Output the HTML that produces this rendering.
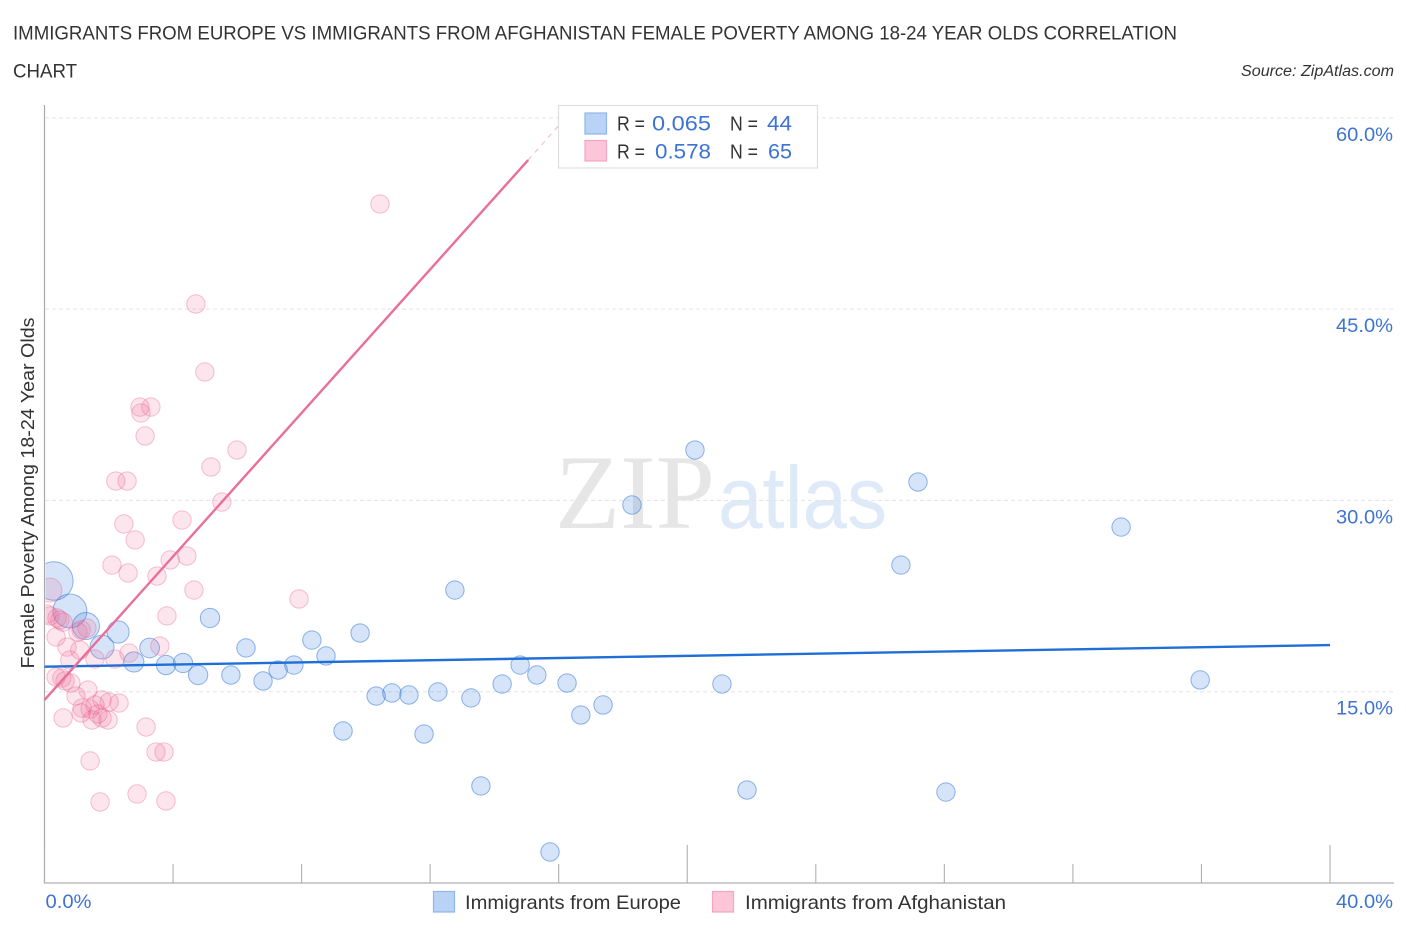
<!DOCTYPE html>
<html lang="en">
<head>
<meta charset="utf-8">
<title>Immigrants from Europe vs Immigrants from Afghanistan Female Poverty Correlation Chart</title>
<style>
html,body{margin:0;padding:0;background:#fff;width:1406px;height:930px;overflow:hidden}
svg{display:block}
text{font-family:"Liberation Sans",sans-serif}
</style>
</head>
<body>
<svg id="chart" xmlns="http://www.w3.org/2000/svg" width="1406" height="930" viewBox="0 0 1406 930">
  <defs><clipPath id="plot-clip"><rect x="45.5" y="100" width="1350" height="783"/></clipPath></defs>
  <text x="13" y="39.5" font-size="19.5" fill="#333" textLength="1164" lengthAdjust="spacingAndGlyphs">IMMIGRANTS FROM EUROPE VS IMMIGRANTS FROM AFGHANISTAN FEMALE POVERTY AMONG 18-24 YEAR OLDS CORRELATION</text>
  <text x="13" y="77.5" font-size="19.5" fill="#333" textLength="64" lengthAdjust="spacingAndGlyphs">CHART</text>
  <text x="1394" y="76" font-size="15.5" font-style="italic" fill="#333" text-anchor="end" textLength="153" lengthAdjust="spacingAndGlyphs">Source: ZipAtlas.com</text>
  <g>
    <text x="555" y="528" font-size="106" fill="#e6e6e6" textLength="160" lengthAdjust="spacingAndGlyphs" style="font-family:'Liberation Serif',serif">ZIP</text>
    <text x="718" y="528" font-size="88" fill="#dfeaf9" textLength="169" lengthAdjust="spacingAndGlyphs">atlas</text>
  </g>
  <g id="grid"></g>
  <g id="axes"></g>
  <g id="points" clip-path="url(#plot-clip)"></g>
  <g id="trends"></g>
  <text transform="translate(34 493) rotate(-90)" font-size="18.5" fill="#333" text-anchor="middle" textLength="351" lengthAdjust="spacingAndGlyphs">Female Poverty Among 18-24 Year Olds</text>
  <g>
    <rect x="558.5" y="105.5" width="259" height="62.5" fill="#fff" stroke="#dedede" stroke-width="1.2"/>
    <rect x="585" y="113" width="21.5" height="21" fill="#b9d3f7" stroke="#8fb5ea" stroke-width="1.2"/>
    <rect x="585" y="140.5" width="21.5" height="20.5" fill="#fcc5d8" stroke="#f3a6c0" stroke-width="1.2"/>
    <text x="617" y="130.5" font-size="20" fill="#333" textLength="28" lengthAdjust="spacingAndGlyphs">R =</text>
    <text x="652" y="130.5" font-size="21" fill="#3d73d2" textLength="59" lengthAdjust="spacingAndGlyphs">0.065</text>
    <text x="730" y="130.5" font-size="20" fill="#333" textLength="28" lengthAdjust="spacingAndGlyphs">N =</text>
    <text x="767" y="130.5" font-size="21" fill="#3d73d2" textLength="25" lengthAdjust="spacingAndGlyphs">44</text>
    <text x="617" y="158.5" font-size="20" fill="#333" textLength="28" lengthAdjust="spacingAndGlyphs">R =</text>
    <text x="655" y="158.5" font-size="21" fill="#3d73d2" textLength="56" lengthAdjust="spacingAndGlyphs">0.578</text>
    <text x="730" y="158.5" font-size="20" fill="#333" textLength="28" lengthAdjust="spacingAndGlyphs">N =</text>
    <text x="768" y="158.5" font-size="21" fill="#3d73d2" textLength="24" lengthAdjust="spacingAndGlyphs">65</text>
  </g>
  <g>
    <rect x="433.5" y="891.5" width="21" height="20.5" fill="#b9d3f7" stroke="#8fb5ea" stroke-width="1.2"/>
    <text x="465" y="909" font-size="19.5" fill="#333" textLength="216" lengthAdjust="spacingAndGlyphs">Immigrants from Europe</text>
    <rect x="712.5" y="891.5" width="21" height="20.5" fill="#fcc5d8" stroke="#f3a6c0" stroke-width="1.2"/>
    <text x="745" y="909" font-size="19.5" fill="#333" textLength="261" lengthAdjust="spacingAndGlyphs">Immigrants from Afghanistan</text>
  </g>
</svg>
<script>
const europeX = [0.29,0.79,1.29,1.79,2.29,2.78,3.27,3.78,4.31,4.78,5.15,5.80,6.27,6.80,7.27,7.76,8.32,8.76,9.29,9.82,10.32,10.81,11.34,11.81,12.24,12.77,13.27,13.58,14.24,14.80,15.32,15.73,16.26,16.69,17.38,18.28,20.24,21.08,21.86,26.65,27.18,28.05,33.50,35.96];
const europeY = [23.72,21.37,20.19,18.54,19.72,17.37,18.47,17.13,17.29,16.35,20.82,16.35,18.47,15.88,16.74,17.13,19.09,17.84,11.96,19.64,14.70,14.94,14.78,11.72,15.02,23.01,14.55,7.65,15.64,17.13,16.35,2.47,15.72,13.21,14.00,29.68,33.99,15.64,7.33,24.97,31.48,7.17,27.95,15.96];
const europeWeight = [4.4,3.4,2.15,1.7,1.45,1.2,1.15,1.1,1.1,1.1,1.1,1,1,1,1,1,1,1,1,1,1,1,1,1,1,1,1,1,1,1,1,1,1,1,1,1,1,1,1,1,1,1,1,1];
const afghanX = [10.44,4.71,4.99,2.97,3.31,3.00,3.13,5.99,5.18,2.22,2.57,5.52,4.28,2.47,2.82,4.43,3.91,2.10,2.60,3.50,4.65,7.92,3.81,0.17,0.17,0.08,0.48,0.36,1.04,1.32,1.14,0.70,1.10,0.79,1.57,2.19,2.63,3.59,0.36,0.54,0.64,0.82,0.98,1.35,1.17,1.14,1.42,1.57,1.79,2.32,1.48,1.79,1.66,1.98,0.58,3.16,3.47,3.72,1.42,2.88,1.73,3.78,0.39,2.01,0.58];
const afghanY = [53.28,45.44,40.11,37.36,37.36,36.89,35.09,33.99,32.66,31.56,31.56,29.91,28.50,28.19,26.94,25.68,25.37,24.97,24.35,24.11,23.01,22.31,20.98,23.00,20.98,21.13,20.66,19.33,19.72,20.03,19.88,18.54,18.31,17.53,17.60,17.60,18.07,18.62,16.19,16.11,15.88,15.72,14.70,15.17,13.76,13.37,13.68,14.00,14.39,14.15,12.82,12.98,13.29,12.82,12.98,12.27,10.31,10.31,9.61,7.02,6.39,6.47,20.82,14.23,20.50];
const afghanWeight = [1,1,1,1,1,1,1,1,1,1,1,1,1,1,1,1,1,1,1,1,1,1,1,1.7,1,1,1,1,1,1,1,1,1,1,1,1,1,1,1,1,1,1,1,1,1,1,1,1,1,1,1,1,1,1,1,1,1,1,1,1,1,1,1,1,1];
const europeTrendX = [0,40];
const europeTrendY = [17.0,18.7];
const afghanTrendX = [0,15.05];
const afghanTrendY = [14.39,56.73];
const afghanTrendExtX = [15.05,16.2];
const afghanTrendExtY = [56.73,60];
const yTickValues = [15,30,45,60];
const yTickLabels = ['15.0%','30.0%','45.0%','60.0%'];
const xTickValues = [0,4,8,12,16,20,24,28,32,36,40];
const xMajorTicks = [0,20,40];
const xEndLabels = ['0.0%','40.0%'];
const xEndValues = [0,40];

const NS = 'http://www.w3.org/2000/svg';
function xScale(v){return 44.5 + v * 32.1375;}
function yScale(v){return 883.5 - v * 12.753;}
function make(tag, attrs, parent){
  const el = document.createElementNS(NS, tag);
  for (const k in attrs) el.setAttribute(k, attrs[k]);
  parent.appendChild(el);
  return el;
}
const gridG = document.getElementById('grid');
const axesG = document.getElementById('axes');
const pointsG = document.getElementById('points');
const trendsG = document.getElementById('trends');

yTickValues.forEach(function(v, i){
  const line = make('line', {x1:45, x2:1394, y1:yScale(v) - 0.5, y2:yScale(v) - 0.5, stroke:'#e4e4e4', 'stroke-width':1, 'stroke-dasharray':'4 3'}, gridG);
  
  
  const label = make('text', {x:1393, y:yScale(v) + 22.5, 'font-size':19.5, fill:'#3d73d2', 'text-anchor':'end', textLength:57, lengthAdjust:'spacingAndGlyphs'}, axesG);
  label.textContent = yTickLabels[i];
  
  
});

const yAxis = make('line', {x1:44.5, x2:44.5, y1:105, y2:883, stroke:'#aaa', 'stroke-width':1.2}, axesG);


const xAxis = make('line', {x1:44, x2:1394, y1:883, y2:883, stroke:'#bdbdbd', 'stroke-width':1.6}, axesG);



xTickValues.forEach(function(v){
  const top = xMajorTicks.indexOf(v) >= 0 ? 845 : 864;
  const tick = make('line', {x1:xScale(v), x2:xScale(v), y1:top, y2:883, stroke:'#b0b0b0', 'stroke-width':1.1}, axesG);
  
  
});

xEndValues.forEach(function(v, i){
  const anchorX = i === 0 ? xScale(v) + 1 : 1393;
  const label = make('text', {x:anchorX, y:908, 'font-size':19.5, fill:'#3d73d2', 'text-anchor':i === 0 ? 'start' : 'end', textLength:i === 0 ? 46 : 57, lengthAdjust:'spacingAndGlyphs'}, axesG);
  label.textContent = xEndLabels[i];
  
  
});

function radius(w){return 9.2 * Math.sqrt(w);}

europeX.forEach(function(v, i){
  const dot = make('circle', {cx:xScale(v), cy:yScale(europeY[i]), r:radius(europeWeight[i]), fill:'rgba(66,133,224,0.22)', stroke:'rgba(58,122,214,0.55)', 'stroke-width':1}, pointsG);
  
  
});
afghanX.forEach(function(v, i){
  const dot = make('circle', {cx:xScale(v), cy:yScale(afghanY[i]), r:radius(afghanWeight[i]), fill:'rgba(240,98,146,0.17)', stroke:'rgba(232,96,140,0.38)', 'stroke-width':1}, pointsG);
  
  
});

const europeTrend = make('line', {x1:xScale(europeTrendX[0]), y1:yScale(europeTrendY[0]), x2:xScale(europeTrendX[1]), y2:yScale(europeTrendY[1]), stroke:'#1f6fd6', 'stroke-width':2.4}, trendsG);


const afghanTrend = make('line', {x1:xScale(afghanTrendX[0]), y1:yScale(afghanTrendY[0]), x2:xScale(afghanTrendX[1]), y2:yScale(afghanTrendY[1]), stroke:'#e96f9b', 'stroke-width':2.4}, trendsG);


const afghanExt = make('line', {x1:xScale(afghanTrendExtX[0]), y1:yScale(afghanTrendExtY[0]), x2:xScale(afghanTrendExtX[1]), y2:yScale(afghanTrendExtY[1]), stroke:'#f2b3c8', 'stroke-width':1, 'stroke-dasharray':'5 5'}, trendsG);


</script>
</body>
</html>
